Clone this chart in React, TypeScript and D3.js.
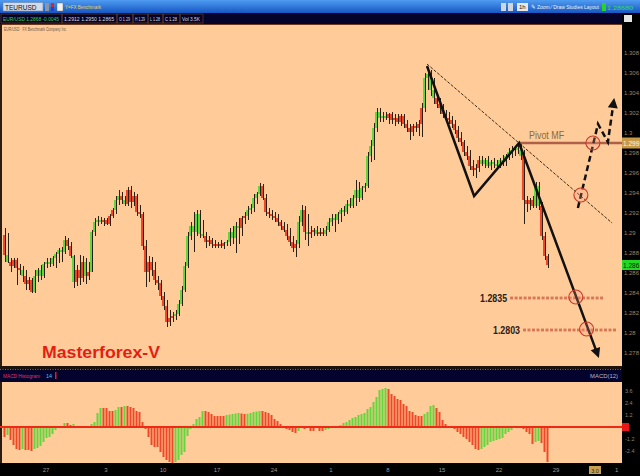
import React from "react";
import * as d3 from "d3";

// ---------- DATA (EUR/USD candles) ----------
const opens = [
  1.2898,1.2878,1.2871,1.2867,1.2873,1.2865,1.2863,1.2857,1.2849,1.2853,
  1.2841,1.2857,1.2863,1.2857,1.2869,1.2871,1.2869,1.2875,1.2879,1.2883,
  1.2881,1.2893,1.2887,1.2877,1.2851,1.2863,1.2855,1.2871,1.2857,1.2861,
  1.2901,1.2911,1.2913,1.2911,1.2913,1.2909,1.2917,1.2923,1.2933,1.2937,
  1.2933,1.2929,1.2943,1.2931,1.2937,1.2921,1.2919,1.2887,1.2861,1.2871,
  1.2863,1.2853,1.2850,1.2837,1.2827,1.2811,1.2815,1.2817,1.2819,1.2829,
  1.2843,1.2867,1.2897,1.2907,1.2901,1.2919,1.2899,1.2897,1.2891,1.2893,
  1.2889,1.2887,1.2889,1.2887,1.2890,1.2891,1.2901,1.2895,1.2907,1.2905,
  1.2915,1.2917,1.2923,1.2925,1.2935,1.2939,1.2947,1.2935,1.2921,1.2919,
  1.2917,1.2915,1.2911,1.2907,1.2903,1.2897,1.2891,1.2885,1.2889,1.2911,
  1.2923,1.2901,1.2899,1.2901,1.2903,1.2899,1.2901,1.2899,1.2903,1.2911,
  1.2915,1.2913,1.2919,1.2923,1.2921,1.2929,1.2927,1.2935,1.2943,1.2935,
  1.2945,1.2947,1.2977,1.2987,1.3005,1.3021,1.3015,1.3017,1.3015,1.3019,
  1.3013,1.3015,1.3011,1.3017,1.3009,1.3005,1.3001,1.3007,1.3005,1.3009,
  1.3025,1.3055,1.3059,1.3043,1.3035,1.3029,1.3025,1.3019,1.3015,1.3013,
  1.3009,1.3003,1.2995,1.2991,1.2981,1.2977,1.2967,1.2963,1.2965,1.2973,
  1.2969,1.2973,1.2967,1.2971,1.2969,1.2967,1.2973,1.2971,1.2977,1.2981,
  1.2983,1.2985,1.2983,1.2977,1.2933,1.2929,1.2933,1.2927,1.2947,1.2927,
  1.2897,1.2877,
];
const highs = [
  1.2905,1.2900,1.2875,1.2875,1.2875,1.2869,1.2867,1.2863,1.2856,1.2855,
  1.2863,1.2865,1.2868,1.2871,1.2875,1.2875,1.2877,1.2881,1.2885,1.2886,
  1.2897,1.2895,1.2891,1.2878,1.2868,1.2878,1.2877,1.2875,1.2871,1.2903,
  1.2915,1.2917,1.2916,1.2915,1.2915,1.2919,1.2925,1.2937,1.2943,1.2941,
  1.2937,1.2946,1.2947,1.2941,1.2939,1.2928,1.2921,1.2893,1.2877,1.2876,
  1.2871,1.2857,1.2853,1.2841,1.2833,1.2823,1.2821,1.2823,1.2833,1.2847,
  1.2871,1.2901,1.2911,1.2921,1.2923,1.2923,1.2913,1.2901,1.2897,1.2895,
  1.2893,1.2891,1.2893,1.2891,1.2893,1.2905,1.2907,1.2911,1.2915,1.2917,
  1.2921,1.2927,1.2929,1.2939,1.2941,1.2950,1.2949,1.2939,1.2925,1.2923,
  1.2921,1.2919,1.2913,1.2911,1.2909,1.2905,1.2897,1.2893,1.2917,1.2928,
  1.2927,1.2919,1.2907,1.2905,1.2907,1.2905,1.2905,1.2907,1.2915,1.2919,
  1.2919,1.2921,1.2925,1.2927,1.2933,1.2935,1.2938,1.2953,1.2951,1.2947,
  1.2950,1.2981,1.2993,1.3010,1.3025,1.3025,1.3021,1.3021,1.3020,1.3021,
  1.3019,1.3019,1.3019,1.3019,1.3013,1.3009,1.3009,1.3011,1.3013,1.3030,
  1.3060,1.3066,1.3063,1.3055,1.3039,1.3035,1.3029,1.3023,1.3021,1.3017,
  1.3013,1.3007,1.3001,1.2993,1.2987,1.2983,1.2973,1.2969,1.2977,1.2977,
  1.2975,1.2977,1.2973,1.2975,1.2973,1.2975,1.2978,1.2979,1.2985,1.2987,
  1.2987,1.2990,1.2990,1.2983,1.2937,1.2935,1.2937,1.2951,1.2951,1.2931,
  1.2901,1.2879,
];
const lows = [
  1.2871,1.2870,1.2861,1.2865,1.2848,1.2858,1.2851,1.2843,1.2843,1.2840,
  1.2840,1.2851,1.2853,1.2855,1.2865,1.2866,1.2867,1.2865,1.2870,1.2871,
  1.2879,1.2883,1.2875,1.2845,1.2847,1.2848,1.2851,1.2849,1.2853,1.2861,
  1.2897,1.2907,1.2909,1.2907,1.2908,1.2907,1.2915,1.2919,1.2928,1.2929,
  1.2927,1.2927,1.2925,1.2927,1.2917,1.2915,1.2883,1.2846,1.2851,1.2857,
  1.2848,1.2843,1.2833,1.2823,1.2806,1.2807,1.2811,1.2813,1.2817,1.2827,
  1.2841,1.2865,1.2893,1.2881,1.2897,1.2895,1.2895,1.2885,1.2887,1.2885,
  1.2885,1.2885,1.2885,1.2884,1.2887,1.2887,1.2889,1.2880,1.2889,1.2897,
  1.2909,1.2913,1.2919,1.2921,1.2929,1.2937,1.2933,1.2917,1.2915,1.2913,
  1.2911,1.2907,1.2903,1.2901,1.2893,1.2887,1.2881,1.2876,1.2885,1.2907,
  1.2893,1.2887,1.2895,1.2897,1.2897,1.2897,1.2897,1.2897,1.2901,1.2907,
  1.2901,1.2909,1.2911,1.2917,1.2919,1.2925,1.2925,1.2927,1.2931,1.2933,
  1.2941,1.2945,1.2971,1.2973,1.3001,1.3011,1.3011,1.3013,1.3009,1.3009,
  1.3007,1.3009,1.3007,1.3005,1.3001,1.2993,1.2997,1.3001,1.2997,1.2996,
  1.3021,1.3043,1.3037,1.3029,1.3025,1.3019,1.3015,1.3011,1.3009,1.3005,
  1.2999,1.2991,1.2987,1.2977,1.2973,1.2963,1.2957,1.2955,1.2961,1.2967,
  1.2965,1.2965,1.2963,1.2965,1.2965,1.2965,1.2967,1.2967,1.2973,1.2975,
  1.2977,1.2979,1.2973,1.2909,1.2921,1.2923,1.2925,1.2925,1.2923,1.2893,
  1.2873,1.2865,
];
const closes = [
  1.2878,1.2871,1.2867,1.2873,1.2865,1.2863,1.2857,1.2849,1.2853,1.2841,
  1.2857,1.2863,1.2857,1.2869,1.2871,1.2869,1.2875,1.2879,1.2883,1.2881,
  1.2893,1.2887,1.2877,1.2851,1.2863,1.2855,1.2871,1.2857,1.2861,1.2901,
  1.2911,1.2913,1.2911,1.2913,1.2909,1.2917,1.2923,1.2933,1.2937,1.2933,
  1.2929,1.2943,1.2931,1.2937,1.2921,1.2919,1.2887,1.2861,1.2871,1.2863,
  1.2853,1.2850,1.2837,1.2827,1.2811,1.2815,1.2817,1.2819,1.2829,1.2843,
  1.2867,1.2897,1.2907,1.2901,1.2919,1.2899,1.2897,1.2891,1.2893,1.2889,
  1.2887,1.2889,1.2887,1.2890,1.2891,1.2901,1.2895,1.2907,1.2905,1.2915,
  1.2917,1.2923,1.2925,1.2935,1.2939,1.2947,1.2935,1.2921,1.2919,1.2917,
  1.2915,1.2911,1.2907,1.2903,1.2897,1.2891,1.2885,1.2889,1.2911,1.2923,
  1.2901,1.2899,1.2901,1.2903,1.2899,1.2901,1.2899,1.2903,1.2911,1.2915,
  1.2913,1.2919,1.2923,1.2921,1.2929,1.2927,1.2935,1.2943,1.2935,1.2945,
  1.2947,1.2977,1.2987,1.3005,1.3021,1.3015,1.3017,1.3015,1.3019,1.3013,
  1.3015,1.3011,1.3017,1.3009,1.3005,1.3001,1.3007,1.3005,1.3009,1.3025,
  1.3055,1.3059,1.3043,1.3035,1.3029,1.3025,1.3019,1.3015,1.3013,1.3009,
  1.3003,1.2995,1.2991,1.2981,1.2977,1.2967,1.2963,1.2965,1.2973,1.2969,
  1.2973,1.2967,1.2971,1.2969,1.2967,1.2973,1.2971,1.2977,1.2981,1.2983,
  1.2985,1.2983,1.2977,1.2933,1.2929,1.2933,1.2927,1.2947,1.2927,1.2897,
  1.2877,1.2868,
];
// Oscillator histogram (lower panel)
const hist = [
  -0.0010,-0.0008,-0.0013,-0.0018,-0.0022,-0.0023,-0.0022,-0.0023,-0.0023,-0.0024,
  -0.0022,-0.0021,-0.0019,-0.0015,-0.0011,-0.0010,-0.0007,-0.0003,-0.0001,0.0001,
  0.0004,0.0004,0.0002,0.0003,0.0001,0.00005,0.00005,0.0001,0.0001,0.0003,
  0.0005,0.0014,0.0019,0.0019,0.0019,0.0016,0.0016,0.0017,0.0020,0.0020,
  0.0021,0.0021,0.0020,0.0019,0.0016,0.0015,0.0005,-0.0002,-0.0010,-0.0018,
  -0.0020,-0.0020,-0.0025,-0.0030,-0.0033,-0.0035,-0.0036,-0.0035,-0.0033,-0.0028,
  -0.0025,-0.0009,-0.0002,0.0003,0.0008,0.0010,0.0016,0.0016,0.0015,0.0013,
  0.0011,0.0011,0.0011,0.0011,0.0012,0.00125,0.0013,0.00135,0.0014,0.00135,
  0.0013,0.00132,0.0014,0.0015,0.00155,0.0016,0.0016,0.0015,0.0014,0.0012,
  0.0008,0.0006,0.0003,0.0001,-0.0002,-0.0003,-0.0005,-0.0006,-0.0004,-0.0001,
  -0.0002,-0.0001,-0.0004,-0.0004,-0.0001,-0.0004,-0.0004,-0.0003,-0.0002,-0.0001,
  0.00005,0.0001,0.0002,0.0004,0.0005,0.0007,0.0009,0.0010,0.0012,0.0013,
  0.0014,0.0018,0.0020,0.0025,0.0030,0.0037,0.0038,0.0039,0.0038,0.0033,
  0.0031,0.0028,0.0027,0.0023,0.0021,0.0016,0.0015,0.0012,0.0011,0.0011,
  0.0013,0.0015,0.0021,0.0022,0.0019,0.0015,0.0007,0.0003,0.0001,0.00005,
  -0.0002,-0.0005,-0.0007,-0.0010,-0.0012,-0.0015,-0.0018,-0.0022,-0.0023,-0.0022,
  -0.0020,-0.0018,-0.0015,-0.0014,-0.0013,-0.0012,-0.0011,-0.0007,-0.0005,-0.0003,
  -0.0001,0.00005,0.0001,-0.0002,-0.0005,-0.0007,-0.0017,-0.0015,-0.0014,-0.0016,
  -0.0025,-0.0035,
];

const priceTicks = [1.308,1.306,1.304,1.302,1.3,1.298,1.296,1.294,1.292,1.29,1.288,1.286,1.284,1.282,1.28,1.278];
const histTicks = [0.0036,0.0024,0.0012,-0.0012,-0.0024];
const dateTickIdx = [14,34,53,71,90,109,128,146,165,184];
const dateTickLabels = ["27","3","10","17","24","1","8","15","22","29"];

// annotations (bar index, price)
const zigzag: [number, number][] = [[141,1.3067],[156.7,1.2937],[171.7,1.2990],[198.3,1.2775]];
const trendline: [number, number][] = [[141,1.3069],[202.7,1.2910]];
const projection: [number, number][] = [[191.3,1.2925],[198,1.3009],[201.3,1.2991],[203.4,1.3035]];
const pivotLevel = 1.2990;
const pivotStart = 171.7;
const pivotLabel = "Pivot MF";
const targetLabels = ["1.2835","1.2803"];
const targetPrices = [1.2835,1.2803];
const targetFrom = [168.7,173];
const targetTo = [199.7,204.3];
const circlePts: [number, number][] = [[192.3,1.2938],[196.3,1.2990],[190.6,1.2836],[194.2,1.2804]];
const brand = "Masterforex-V";

// ---------- LAYOUT ----------
const W = 640, H = 476;
const PL = 2, PR = 622;
const x = d3.scaleLinear().domain([0, closes.length - 1]).range([4, 547]);
const y = d3.scaleLinear().domain([1.278, 1.308]).range([353, 53]);
const yh = d3.scaleLinear().domain([-0.004, 0.004]).range([467, 387]);

const GREEN = "#62d63c", RED = "#ee4828";
const colorAt = (i: number) => (i > 0 && hist[i] > hist[i - 1] ? GREEN : RED);
const FONT = "'Liberation Sans', Arial, sans-serif";

function arrowHead(p1: [number, number], p2: [number, number], len = 10, half = 5) {
  const dx = p2[0] - p1[0], dy = p2[1] - p1[1];
  const L = Math.hypot(dx, dy);
  const ux = dx / L, uy = dy / L;
  const bx = p2[0] - ux * len, by = p2[1] - uy * len;
  return `M${p2[0]},${p2[1]}L${bx - uy * half},${by + ux * half}L${bx + uy * half},${by - ux * half}Z`;
}
function shorten(p1: [number, number], p2: [number, number], d: number): [number, number] {
  const dx = p2[0] - p1[0], dy = p2[1] - p1[1];
  const L = Math.hypot(dx, dy);
  return [p2[0] - (dx / L) * d, p2[1] - (dy / L) * d];
}

export default function App() {
  const line = d3.line<[number, number]>().x((d) => x(d[0])).y((d) => y(d[1]));
  const zz = zigzag.map((d) => [x(d[0]), y(d[1])] as [number, number]);
  const zzLast = zz.length - 1;
  const zzLine = [...zz.slice(0, zzLast), shorten(zz[zzLast - 1], zz[zzLast], 6)];
  const pj = projection.map((d) => [x(d[0]), y(d[1])] as [number, number]);
  const pjLast = pj.length - 1;
  const pjLine = [...pj.slice(0, pjLast), shorten(pj[pjLast - 1], pj[pjLast], 6)];
  const pathOf = (pts: [number, number][]) => "M" + pts.map((p) => p.join(",")).join("L");
  const lastClose = closes[closes.length - 1];

  const headerCells = [
    { x0: 1, x1: 62, t: "EUR/USD 1.2868 -0.0045", c: "#3cd23c" },
    { x0: 62, x1: 117, t: "1.2912 1.2950 1.2865", c: "#d8d8d8" },
    { x0: 117, x1: 133, t: "O 1.29", c: "#d8d8d8" },
    { x0: 133, x1: 148, t: "H 1.29", c: "#d8d8d8" },
    { x0: 148, x1: 163, t: "L 1.28", c: "#d8d8d8" },
    { x0: 163, x1: 180, t: "C 1.28", c: "#d8d8d8" },
    { x0: 180, x1: 203, t: "Vol 3.5K", c: "#d8d8d8" },
  ];

  return (
    <svg width={W} height={H} style={{ position: "absolute", left: 0, top: 0 }} fontFamily={FONT}>
      <defs>
        <linearGradient id="topbar" x1="0" y1="0" x2="0" y2="1">
          <stop offset="0" stopColor="#4f9cf2" />
          <stop offset="1" stopColor="#1656c2" />
        </linearGradient>
      </defs>
      <rect x={0} y={0} width={W} height={H} fill="#000" />
      {/* top toolbar */}
      <rect x={0} y={0} width={W} height={13} fill="url(#topbar)" />
      <rect x={3} y={2.5} width={40} height={8.5} fill="#d4dbe8" stroke="#6c86b0" strokeWidth={0.6} />
      <text x={5} y={9.5} fontSize={6.5} fill="#111">TEURUSD</text>
      <rect x={45} y={3} width={4} height={8} fill="#8a96a8" />
      <rect x={51} y={3} width={3} height={4} fill="#e02424" />
      <rect x={51} y={7} width={3} height={4} fill="#2040d0" />
      <rect x={57} y={3} width={6} height={8} fill="#f2f2f2" stroke="#666" strokeWidth={0.4} />
      <text x={65} y={9} fontSize={6} fill="#e6d24a" textLength={36} lengthAdjust="spacingAndGlyphs">Y=FX Benchmark</text>
      <rect x={501} y={3} width={5} height={8} fill="#cfd6e0" />
      <rect x={508} y={3} width={5} height={8} fill="#cfd6e0" />
      <rect x={517} y={3} width={11} height={8} fill="#e8e8e8" />
      <text x={519} y={9.3} fontSize={6} fill="#222">1h</text>
      <text x={531} y={9.3} fontSize={5.5} fill="#f0f0f0" textLength={68} lengthAdjust="spacingAndGlyphs">✎ Zoom ⁄ Draw  Studies  Layout</text>
      <rect x={602} y={3} width={4} height={8} fill="#2ad32a" />
      <text x={607} y={9.5} fontSize={6} fill="#35e035" textLength={26} lengthAdjust="spacingAndGlyphs">1.28680</text>

      {/* quote header */}
      <rect x={0} y={13} width={PR} height={11} fill="#03032c" />
      {headerCells.map((c, i) => (
        <g key={i}>
          <rect x={c.x0} y={14} width={c.x1 - c.x0} height={9} fill="none" stroke="#6a4424" strokeWidth={0.7} />
          <text x={c.x0 + 2} y={21} fontSize={5} fill={c.c} textLength={c.x1 - c.x0 - 5} lengthAdjust="spacingAndGlyphs">{c.t}</text>
        </g>
      ))}
      <rect x={624} y={15} width={8} height={7} fill="#e4e4e4" />
      <rect x={0} y={24} width={PR} height={1.2} fill="#6b3a1a" />

      {/* main plot */}
      <rect x={PL} y={25} width={PR - PL} height={341} fill="#ffcc99" />
      <rect x={0} y={24} width={PL} height={452} fill="#2a1c10" />
      <text x={4} y={31} fontSize={5.5} fill="#6a5a4a" textLength={62} lengthAdjust="spacingAndGlyphs">EUR/USD · FX Benchmark Company Inc</text>

      {/* candles */}
      {closes.map((c, i) => {
        const cx = Math.round(x(i));
        const o = opens[i];
        const top = y(Math.max(o, c));
        const bot = y(Math.min(o, c));
        return (
          <g key={i}>
            <rect x={cx - 1} y={top} width={2} height={Math.max(1, bot - top)} fill={colorAt(i)} />
            <line x1={cx + 1.5} x2={cx + 1.5} y1={y(highs[i])} y2={y(lows[i])} stroke="#2a2016" strokeWidth={1} />
          </g>
        );
      })}

      {/* trendline */}
      <path d={line(trendline) || ""} stroke="#3a2a1a" strokeWidth={1} strokeDasharray="3,1.5" fill="none" />

      {/* pivot level */}
      <line x1={x(pivotStart)} x2={PR} y1={y(pivotLevel)} y2={y(pivotLevel)} stroke="#b0604a" strokeWidth={2.5} />
      <text x={x(pivotStart) + 10} y={y(pivotLevel) - 4} fontSize={11} fill="#8a6a36" textLength={35} lengthAdjust="spacingAndGlyphs">{pivotLabel}</text>

      {/* target levels */}
      {targetPrices.map((p, i) => (
        <g key={i}>
          <line x1={x(targetFrom[i])} x2={x(targetTo[i])} y1={y(p) - 0.8} y2={y(p) - 0.8} stroke="#c8503a" strokeWidth={1} strokeDasharray="3,1.5" />
          <line x1={x(targetFrom[i])} x2={x(targetTo[i])} y1={y(p) + 0.8} y2={y(p) + 0.8} stroke="#c8503a" strokeWidth={1} strokeDasharray="3,1.5" />
          <text x={x(targetFrom[i]) - 3} y={y(p) + 3.5} fontSize={10.5} fontWeight="bold" fill="#2a2018" textAnchor="end" textLength={27} lengthAdjust="spacingAndGlyphs">{targetLabels[i]}</text>
        </g>
      ))}

      {/* zigzag */}
      <path d={pathOf(zzLine)} stroke="#111" strokeWidth={2.5} fill="none" strokeLinejoin="miter" />
      <path d={arrowHead(zz[zzLast - 1], zz[zzLast], 10, 5)} fill="#111" />

      {/* projection (dashed) */}
      <path d={pathOf(pjLine)} stroke="#111" strokeWidth={2.5} fill="none" strokeDasharray="6,3.5" />
      <path d={arrowHead(pj[pjLast - 1], pj[pjLast], 10, 5)} fill="#111" />

      {/* circles */}
      {circlePts.map((c, i) => (
        <circle key={i} cx={x(c[0])} cy={y(c[1])} r={7} fill="rgba(255,150,130,0.25)" stroke="#c83a2a" strokeWidth={1.1} />
      ))}

      <text x={42} y={358} fontSize={16} fontWeight="bold" fill="#e41e14" textLength={118} lengthAdjust="spacingAndGlyphs">{brand}</text>

      {/* right price axis */}
      {priceTicks.map((t) => (
        <text key={t} x={624} y={y(t) + 2} fontSize={6} fill="#9a8660">{String(+t.toFixed(3))}</text>
      ))}
      <rect x={622} y={y(pivotLevel) - 5.5} width={18} height={11} fill="#c89a48" />
      <text x={623} y={y(pivotLevel) + 2.5} fontSize={6.5} fill="#fff6e0">{pivotLevel.toFixed(4).slice(0, 5)}</text>
      <rect x={622} y={y(lastClose) - 5} width={18} height={10} fill="#24d824" />
      <text x={623} y={y(lastClose) + 2.5} fontSize={6.5} fill="#062006">{lastClose.toFixed(4).slice(0, 5)}</text>

      {/* separator & indicator header */}
      <rect x={0} y={366} width={PR} height={3} fill="#1c140c" />
      <rect x={0} y={369} width={PR} height={13} fill="#03032e" />
      <line x1={0} x2={PR} y1={369.5} y2={369.5} stroke="#8a8a8a" strokeWidth={0.8} strokeDasharray="1,1.5" />
      <text x={3} y={378} fontSize={5.5} fill="#e0306a" textLength={37} lengthAdjust="spacingAndGlyphs">MACD Histogram</text>
      <text x={46} y={378} fontSize={5.5} fill="#40c8f0">14</text>
      <rect x={55} y={372} width={1.5} height={7} fill="#e02020" />
      <text x={590} y={378} fontSize={5.5} fill="#b8b8c8" textLength={28} lengthAdjust="spacingAndGlyphs">MACD(12)</text>

      {/* lower panel */}
      <rect x={PL} y={382} width={PR - PL} height={81} fill="#ffcc99" />
      {hist.map((v, i) => {
        const cx = Math.round(x(i));
        const y0 = yh(0), y1 = yh(v);
        return <rect key={i} x={cx - 0.5} y={Math.min(y0, y1)} width={2} height={Math.max(0.5, Math.abs(y1 - y0))} fill={colorAt(i)} />;
      })}
      <line x1={0} x2={PR} y1={yh(0)} y2={yh(0)} stroke="#ee2a14" strokeWidth={1.8} />
      {histTicks.map((t) => (
        <text key={t} x={625} y={yh(t) + 2} fontSize={5.5} fill="#8a8070">{(t * 1000).toFixed(1)}</text>
      ))}
      <rect x={622} y={yh(0) - 4} width={7} height={8} fill="#e81818" />

      {/* bottom time axis */}
      <rect x={0} y={463} width={W} height={13} fill="#000" />
      {dateTickIdx.map((d, i) => (
        <text key={i} x={x(d)} y={472} fontSize={6} fill="#9a9a9a" textAnchor="middle">{dateTickLabels[i]}</text>
      ))}
      <rect x={589} y={466} width={12} height={8} fill="#c6a050" />
      <text x={595} y={472.5} fontSize={5.5} fill="#222" textAnchor="middle">3.0</text>
      <text x={615} y={472} fontSize={6} fill="#9a9a9a">1</text>
    </svg>
  );
}
